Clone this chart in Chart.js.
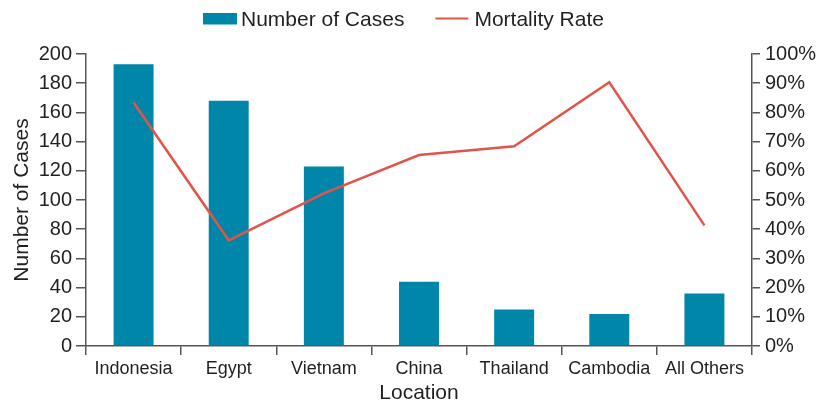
<!DOCTYPE html>
<html>
<head>
<meta charset="utf-8">
<script src="https://cdn.jsdelivr.net/npm/chart.js@4/dist/chart.umd.min.js"></script>
<style>
  body { margin: 0; background: #fff; }
  canvas { display: block; }
</style>
</head>
<body>
<canvas id="chart" width="820" height="406"></canvas>
<script>
const locations = ['Indonesia', 'Egypt', 'Vietnam', 'China', 'Thailand', 'Cambodia', 'All Others'];
const cases = [193, 168, 123, 44, 25, 22, 36];
const mortality = [83.4, 36.2, 52.3, 65.4, 68.4, 90.3, 41.3];
const caseTicks = [0, 200, 20];
const rateTicks = [0, 100, 10];

const FONT = '"Liberation Sans", Arial, Helvetica, sans-serif';
const TEXT = '#231f20';
const AXIS = '#555';
const TEAL = '#0086a8';
const RED = '#e0544a';

// legend drawn by hand so box/text spacing matches
const legendPlugin = {
  id: 'topLegend',
  afterDraw(chart) {
    const ctx = chart.ctx;
    const ds = chart.data.datasets;
    ctx.save();
    ctx.font = '21px ' + FONT;
    ctx.fillStyle = TEXT;
    ctx.textBaseline = 'alphabetic';
    let x = 203;
    ctx.fillStyle = ds[0].backgroundColor;
    ctx.fillRect(x, 13, 34, 11.5);
    x += 38;
    ctx.fillStyle = TEXT;
    ctx.fillText(ds[0].label, x, 26);
    x += ctx.measureText(ds[0].label).width + 31;
    ctx.strokeStyle = ds[1].borderColor;
    ctx.lineWidth = 2;
    ctx.beginPath();
    ctx.moveTo(x, 18.5);
    ctx.lineTo(x + 33, 18.5);
    ctx.stroke();
    x += 39;
    ctx.fillText(ds[1].label, x, 26);
    ctx.restore();
  }
};

new Chart(document.getElementById('chart'), {
  data: {
    labels: locations,
    datasets: [
      {
        type: 'bar',
        label: 'Number of Cases',
        data: cases,
        backgroundColor: TEAL,
        barPercentage: 0.42,
        categoryPercentage: 1,
        yAxisID: 'y',
        order: 1
      },
      {
        type: 'line',
        label: 'Mortality Rate',
        data: mortality,
        borderColor: RED,
        borderWidth: 2.5,
        pointRadius: 0,
        tension: 0,
        yAxisID: 'y1',
        order: 0
      }
    ]
  },
  options: {
    responsive: false,
    animation: false,
    layout: { padding: { top: 54, left: 0, right: 0, bottom: 0 } },
    plugins: { legend: { display: false }, tooltip: { enabled: false } },
    scales: {
      x: {
        afterFit: s => { s.height = 60; },
        grid: { offset: true, drawOnChartArea: false, tickLength: 9, color: AXIS, lineWidth: 1.5 },
        border: { color: AXIS, width: 1.5 },
        ticks: { color: TEXT, font: { family: FONT, size: 18 }, padding: 3, maxRotation: 0 },
        title: { display: true, text: 'Location', color: TEXT, font: { family: FONT, size: 21 }, padding: { top: 0, bottom: 0 } }
      },
      y: {
        position: 'left',
        min: caseTicks[0],
        max: caseTicks[1],
        afterFit: s => { s.width = 86; },
        grid: { drawOnChartArea: false, tickLength: 10, color: AXIS, lineWidth: 1.5 },
        border: { color: AXIS, width: 1.5 },
        ticks: { stepSize: caseTicks[2], color: TEXT, font: { family: FONT, size: 20 }, padding: 4 },
        title: { display: true, text: 'Number of Cases', color: TEXT, font: { family: FONT, size: 21 }, padding: { top: 10, bottom: 0 } }
      },
      y1: {
        position: 'right',
        min: rateTicks[0],
        max: rateTicks[1],
        afterFit: s => { s.width = 68; },
        grid: { drawOnChartArea: false, tickLength: 8, color: AXIS, lineWidth: 1.5 },
        border: { color: AXIS, width: 1.5 },
        ticks: { stepSize: rateTicks[2], color: TEXT, font: { family: FONT, size: 20 }, padding: 5, callback: v => v + '%' }
      }
    }
  },
  plugins: [legendPlugin]
});
</script>
</body>
</html>
